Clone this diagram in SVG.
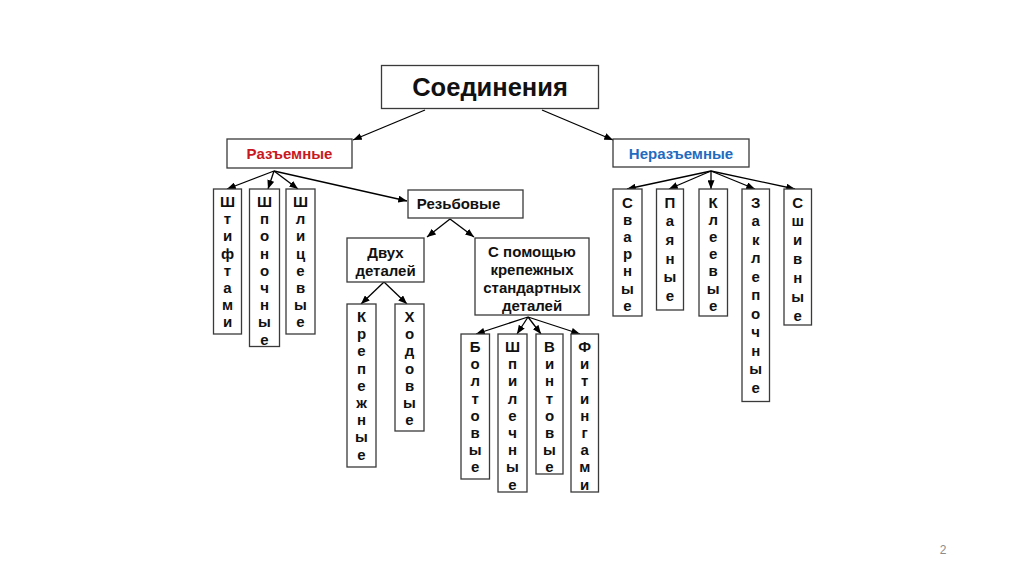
<svg xmlns="http://www.w3.org/2000/svg" width="1024" height="574" viewBox="0 0 1024 574">
<style>
  .box{fill:#fff;stroke:#3a3a3a;stroke-width:1.3}
  .t{font-family:"Liberation Sans",Arial,sans-serif;font-weight:bold;font-size:15px;fill:#111;text-anchor:middle}
  .big{font-size:25.5px}
  .red{fill:#c8191e}
  .bred{fill:#f01010}
  .blue{fill:#1f6cbf}
  .v{font-family:"Liberation Sans",Arial,sans-serif;font-weight:bold;font-size:15px;fill:#111;text-anchor:middle}
  .c{stroke:#000;stroke-width:1.3;fill:none;marker-end:url(#ah)}
  .pg{font-family:"Liberation Sans",Arial,sans-serif;font-size:12px;fill:#8c8c8c}
</style>
<defs>
  <marker id="ah" viewBox="0 0 10 8" refX="10" refY="4" markerWidth="9" markerHeight="7" markerUnits="userSpaceOnUse" orient="auto">
    <path d="M0,0 L10,4 L0,8 z" fill="#000"/>
  </marker>
</defs>
<rect width="1024" height="574" fill="#fff"/>

<g id="connectors">
  <line class="c" x1="425" y1="110" x2="353" y2="140"/>
  <line class="c" x1="542" y1="110" x2="613" y2="140"/>
  <line class="c" x1="274" y1="171" x2="227" y2="189"/>
  <line class="c" x1="274" y1="171" x2="268" y2="189"/>
  <line class="c" x1="274" y1="171" x2="298" y2="189"/>
  <line class="c" x1="274" y1="171" x2="407" y2="201"/>
  <line class="c" x1="450" y1="219" x2="427" y2="237"/>
  <line class="c" x1="450" y1="219" x2="474" y2="237"/>
  <line class="c" x1="384" y1="282" x2="361" y2="304"/>
  <line class="c" x1="384" y1="282" x2="407" y2="304"/>
  <line class="c" x1="528" y1="317" x2="476" y2="334"/>
  <line class="c" x1="528" y1="317" x2="517" y2="334"/>
  <line class="c" x1="528" y1="317" x2="541" y2="334"/>
  <line class="c" x1="528" y1="317" x2="580" y2="334"/>
  <line class="c" x1="711" y1="171" x2="627" y2="189"/>
  <line class="c" x1="711" y1="171" x2="669" y2="189"/>
  <line class="c" x1="711" y1="171" x2="711" y2="189"/>
  <line class="c" x1="711" y1="171" x2="755" y2="189"/>
  <line class="c" x1="711" y1="171" x2="795" y2="189"/>
</g>

<g id="n-soedineniya">
  <rect class="box" x="381.5" y="65.5" width="217" height="43"/>
  <text class="t big" x="490" y="95.5">Соединения</text>
</g>
<g id="n-razemnye">
  <rect class="box" x="227" y="139" width="125" height="29"/>
  <text class="t red" x="289.5" y="158.5">Разъемные</text>
</g>
<g id="n-nerazemnye">
  <rect class="box" x="613" y="139" width="136" height="28"/>
  <text class="t blue" x="681" y="158.5">Неразъемные</text>
</g>
<g id="n-rezbovye">
  <rect class="box" x="408" y="190" width="115" height="28"/>
  <text class="t" x="458.5" y="208.5">Резьбовые</text>
</g>
<g id="n-dvuh">
  <rect class="box" x="347" y="238" width="77" height="44"/>
  <text class="t" x="385.5" y="258">Двух</text>
  <text class="t" x="385.5" y="276">деталей</text>
</g>
<g id="n-spomoshchyu">
  <rect class="box" x="475" y="238" width="114" height="77"/>
  <text class="t" x="532" y="257">С помощью</text>
  <text class="t" x="532" y="275">крепежных</text>
  <text class="t" x="532" y="293">стандартных</text>
  <text class="t" x="532" y="311">деталей</text>
</g>

<g id="n-shtiftami">
  <rect class="box" x="213.5" y="189" width="28" height="145"/>
  <text class="v"><tspan x="227.5" y="207">Ш</tspan><tspan x="227.5" dy="17.2">т</tspan><tspan x="227.5" dy="17.2">и</tspan><tspan x="227.5" dy="17.2">ф</tspan><tspan x="227.5" dy="17.2">т</tspan><tspan x="227.5" dy="17.2">а</tspan><tspan x="227.5" dy="17.2">м</tspan><tspan x="227.5" dy="17.2">и</tspan></text>
</g>
<g id="n-shponochnye">
  <rect class="box" x="249.5" y="189" width="30" height="157.5"/>
  <text class="v"><tspan x="264.5" y="207">Ш</tspan><tspan x="264.5" dy="17.2">п</tspan><tspan x="264.5" dy="17.2">о</tspan><tspan x="264.5" dy="17.2">н</tspan><tspan x="264.5" dy="17.2">о</tspan><tspan x="264.5" dy="17.2">ч</tspan><tspan x="264.5" dy="17.2">н</tspan><tspan x="264.5" dy="17.2">ы</tspan><tspan x="264.5" dy="17.2">е</tspan></text>
</g>
<g id="n-shlitsevye">
  <rect class="box" x="286" y="189" width="29" height="145"/>
  <text class="v"><tspan x="300.5" y="207">Ш</tspan><tspan x="300.5" dy="17.2">л</tspan><tspan x="300.5" dy="17.2">и</tspan><tspan x="300.5" dy="17.2">ц</tspan><tspan x="300.5" dy="17.2">е</tspan><tspan x="300.5" dy="17.2">в</tspan><tspan x="300.5" dy="17.2">ы</tspan><tspan x="300.5" dy="17.2">е</tspan></text>
</g>

<g id="n-krepezhnye">
  <rect class="box" x="347" y="304" width="29" height="163"/>
  <text class="v"><tspan x="361.5" y="322">К</tspan><tspan x="361.5" dy="17.2">р</tspan><tspan x="361.5" dy="17.2">е</tspan><tspan x="361.5" dy="17.2">п</tspan><tspan x="361.5" dy="17.2">е</tspan><tspan x="361.5" dy="17.2">ж</tspan><tspan x="361.5" dy="17.2">н</tspan><tspan x="361.5" dy="17.2">ы</tspan><tspan x="361.5" dy="17.2">е</tspan></text>
</g>
<g id="n-hodovye">
  <rect class="box" x="395" y="304" width="29" height="127"/>
  <text class="v"><tspan x="409.5" y="322">Х</tspan><tspan x="409.5" dy="17.2">о</tspan><tspan x="409.5" dy="17.2">д</tspan><tspan x="409.5" dy="17.2">о</tspan><tspan x="409.5" dy="17.2">в</tspan><tspan x="409.5" dy="17.2">ы</tspan><tspan x="409.5" dy="17.2">е</tspan></text>
</g>

<g id="n-boltovye">
  <rect class="box" x="461" y="334" width="28.5" height="145"/>
  <text class="v bred"><tspan x="475.2" y="352">Б</tspan><tspan x="475.2" dy="17.2">о</tspan><tspan x="475.2" dy="17.2">л</tspan><tspan x="475.2" dy="17.2">т</tspan><tspan x="475.2" dy="17.2">о</tspan><tspan x="475.2" dy="17.2">в</tspan><tspan x="475.2" dy="17.2">ы</tspan><tspan x="475.2" dy="17.2">е</tspan></text>
</g>
<g id="n-shpilechnye">
  <rect class="box" x="498" y="334" width="29" height="158"/>
  <text class="v"><tspan x="512.5" y="352">Ш</tspan><tspan x="512.5" dy="17.2">п</tspan><tspan x="512.5" dy="17.2">и</tspan><tspan x="512.5" dy="17.2">л</tspan><tspan x="512.5" dy="17.2">е</tspan><tspan x="512.5" dy="17.2">ч</tspan><tspan x="512.5" dy="17.2">н</tspan><tspan x="512.5" dy="17.2">ы</tspan><tspan x="512.5" dy="17.2">е</tspan></text>
</g>
<g id="n-vintovye">
  <rect class="box" x="536" y="334" width="27" height="140"/>
  <text class="v"><tspan x="549.5" y="352">В</tspan><tspan x="549.5" dy="17.2">и</tspan><tspan x="549.5" dy="17.2">н</tspan><tspan x="549.5" dy="17.2">т</tspan><tspan x="549.5" dy="17.2">о</tspan><tspan x="549.5" dy="17.2">в</tspan><tspan x="549.5" dy="17.2">ы</tspan><tspan x="549.5" dy="17.2">е</tspan></text>
</g>
<g id="n-fitingami">
  <rect class="box" x="571" y="334" width="27.5" height="158"/>
  <text class="v"><tspan x="584.7" y="352">Ф</tspan><tspan x="584.7" dy="17.2">и</tspan><tspan x="584.7" dy="17.2">т</tspan><tspan x="584.7" dy="17.2">и</tspan><tspan x="584.7" dy="17.2">н</tspan><tspan x="584.7" dy="17.2">г</tspan><tspan x="584.7" dy="17.2">а</tspan><tspan x="584.7" dy="17.2">м</tspan><tspan x="584.7" dy="17.2">и</tspan></text>
</g>

<g id="n-svarnye">
  <rect class="box" x="613" y="189" width="29" height="127"/>
  <text class="v"><tspan x="627.5" y="207.5">С</tspan><tspan x="627.5" dy="17.2">в</tspan><tspan x="627.5" dy="17.2">а</tspan><tspan x="627.5" dy="17.2">р</tspan><tspan x="627.5" dy="17.2">н</tspan><tspan x="627.5" dy="17.2">ы</tspan><tspan x="627.5" dy="17.2">е</tspan></text>
</g>
<g id="n-payanye">
  <rect class="box" x="656.5" y="189" width="27" height="121"/>
  <text class="v"><tspan x="670" y="207.5">П</tspan><tspan x="670" dy="18.7">а</tspan><tspan x="670" dy="18.7">я</tspan><tspan x="670" dy="18.7">н</tspan><tspan x="670" dy="18.7">ы</tspan><tspan x="670" dy="18.7">е</tspan></text>
</g>
<g id="n-kleevye">
  <rect class="box" x="699" y="189" width="28.5" height="127"/>
  <text class="v"><tspan x="713.2" y="207.5">К</tspan><tspan x="713.2" dy="17.2">л</tspan><tspan x="713.2" dy="17.2">е</tspan><tspan x="713.2" dy="17.2">е</tspan><tspan x="713.2" dy="17.2">в</tspan><tspan x="713.2" dy="17.2">ы</tspan><tspan x="713.2" dy="17.2">е</tspan></text>
</g>
<g id="n-zaklepochnye">
  <rect class="box" x="742" y="189" width="27.5" height="212.5"/>
  <text class="v"><tspan x="755.7" y="207.5">З</tspan><tspan x="755.7" dy="18.5">а</tspan><tspan x="755.7" dy="18.5">к</tspan><tspan x="755.7" dy="18.5">л</tspan><tspan x="755.7" dy="18.5">е</tspan><tspan x="755.7" dy="18.5">п</tspan><tspan x="755.7" dy="18.5">о</tspan><tspan x="755.7" dy="18.5">ч</tspan><tspan x="755.7" dy="18.5">н</tspan><tspan x="755.7" dy="18.5">ы</tspan><tspan x="755.7" dy="18.5">е</tspan></text>
</g>
<g id="n-shivnye">
  <rect class="box" x="784" y="189" width="27.5" height="136"/>
  <text class="v"><tspan x="797.7" y="207.5">С</tspan><tspan x="797.7" dy="18.9">ш</tspan><tspan x="797.7" dy="18.9">и</tspan><tspan x="797.7" dy="18.9">в</tspan><tspan x="797.7" dy="18.9">н</tspan><tspan x="797.7" dy="18.9">ы</tspan><tspan x="797.7" dy="18.9">е</tspan></text>
</g>

<text class="pg" x="943" y="554" text-anchor="middle">2</text>
</svg>
